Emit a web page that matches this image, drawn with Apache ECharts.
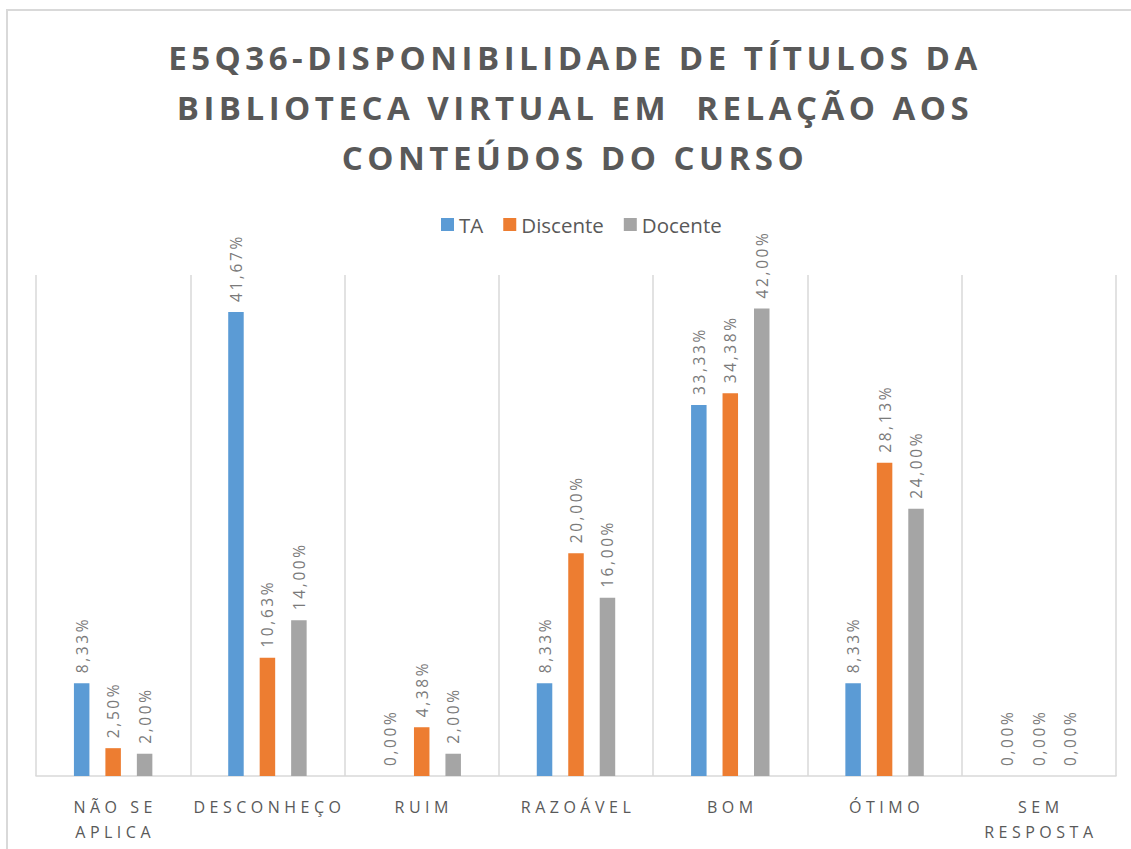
<!DOCTYPE html>
<html>
<head>
<meta charset="utf-8">
<script src="https://cdn.jsdelivr.net/npm/echarts@6/dist/echarts.min.js"></script>
<style>
  html, body { margin: 0; padding: 0; background: #ffffff; }
  #chart { width: 1131px; height: 849px; }
  /* spaced-out lettering for title, category names and value labels */
  #chart text[style*="33px"] { letter-spacing: 4.5px; }
  #chart text[style*="16px"] { letter-spacing: 4.5px; }
  #chart text[style*="15.5px"] { letter-spacing: 2.6px; }
</style>
</head>
<body>
<div id="chart"></div>
<script>
const categories = ['NÃO SE\nAPLICA', 'DESCONHEÇO', 'RUIM', 'RAZOÁVEL', 'BOM', 'ÓTIMO', 'SEM\nRESPOSTA'];
const seriesNames = ['TA', 'Discente', 'Docente'];
const taValues = [8.33, 41.67, 0.00, 8.33, 33.33, 8.33, 0.00];
const discenteValues = [2.50, 10.63, 4.38, 20.00, 34.38, 28.13, 0.00];
const docenteValues = [2.00, 14.00, 2.00, 16.00, 42.00, 24.00, 0.00];
const seriesColors = ['#5B9BD5', '#ED7D31', '#A5A5A5'];

const chart = echarts.init(document.getElementById('chart'), null, { renderer: 'svg' });

function fmtPct(v) {
  return v.toFixed(2).replace('.', ',') + '%';
}

function makeSeries(name, values, color) {
  return {
    name: name,
    type: 'bar',
    data: values,
    barWidth: 15.5,
    barGap: '103%',
    itemStyle: { color: color },
    label: {
      show: true,
      position: 'top',
      rotate: 90,
      align: 'left',
      verticalAlign: 'middle',
      distance: 10,
      fontFamily: 'Open Sans',
      fontSize: 15.5,
      color: '#7a7a7a',
      formatter: p => fmtPct(p.value)
    }
  };
}

chart.setOption({
  animation: false,
  backgroundColor: '#ffffff',
  graphic: [{
    type: 'rect',
    shape: { x: 7, y: 10, width: 1300, height: 1000 },
    style: { fill: 'none', stroke: '#d9d9d9', lineWidth: 2 },
    silent: true
  }],
  title: {
    text: 'E5Q36-DISPONIBILIDADE DE TÍTULOS DA\nBIBLIOTECA VIRTUAL EM  RELAÇÃO AOS\nCONTEÚDOS DO CURSO',
    left: 570,
    top: 27,
    textAlign: 'center',
    textStyle: {
      fontFamily: 'Open Sans',
      fontWeight: 'bold',
      fontSize: 33,
      lineHeight: 50,
      color: '#595959'
    }
  },
  legend: {
    data: seriesNames,
    left: 436,
    top: 209,
    itemWidth: 13,
    itemHeight: 13,
    itemGap: 20,
    icon: 'rect',
    textStyle: { fontFamily: 'Open Sans', fontSize: 20.5, color: '#595959' }
  },
  grid: { left: 36, right: 15, top: 275, bottom: 73, containLabel: false },
  xAxis: {
    type: 'category',
    data: categories,
    axisLine: { show: true, lineStyle: { color: '#d9d9d9', width: 1.5 } },
    axisTick: { show: false },
    splitLine: { show: true, lineStyle: { color: '#d9d9d9', width: 1.5 } },
    axisLabel: {
      interval: 0,
      margin: 18,
      fontFamily: 'Open Sans',
      fontSize: 16,
      lineHeight: 25,
      color: '#595959',
      padding: [0, 0, 0, 4]
    }
  },
  yAxis: {
    type: 'value',
    min: 0,
    max: 45,
    show: false,
    splitLine: { show: false }
  },
  series: [
    makeSeries(seriesNames[0], taValues, seriesColors[0]),
    makeSeries(seriesNames[1], discenteValues, seriesColors[1]),
    makeSeries(seriesNames[2], docenteValues, seriesColors[2])
  ]
});
</script>
</body>
</html>
